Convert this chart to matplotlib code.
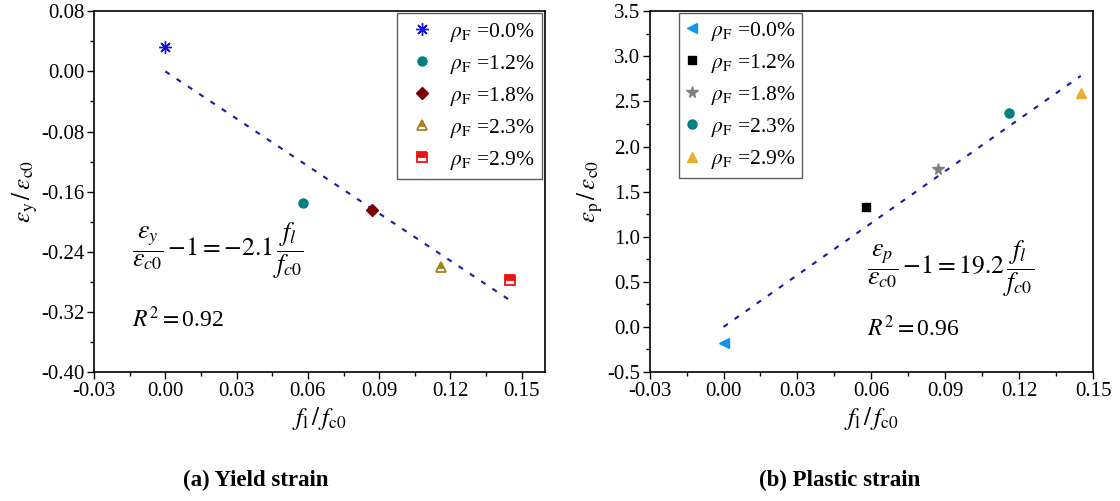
import matplotlib
matplotlib.use("Agg")
import matplotlib.pyplot as plt
import numpy as np

plt.rcParams['font.family'] = ['Liberation Serif', 'DejaVu Serif']
plt.rcParams['mathtext.fontset'] = 'stix'

# ---- data ----
labels = ["0.0%", "1.2%", "1.8%", "2.3%", "2.9%"]
fl_fc0 = [0.0, 0.058, 0.087, 0.116, 0.145]
yield_strain = [0.032, -0.175, -0.185, -0.26, -0.277]
plastic_strain = [-0.18, 1.33, 1.75, 2.37, 2.59]
fit_x = [0.0, 0.145]
slope_yield = -2.1
slope_plastic = 19.2

fig = plt.figure(figsize=(11.2, 5.01), dpi=100)
ax1 = fig.add_axes([0.084, 0.2575, 0.403, 0.72])
ax2 = fig.add_axes([0.580, 0.2575, 0.396, 0.72])

# left panel styles
left_styles = [
    dict(marker=(8, 2, 0), color='#1010F0', ms=9, mew=1.0, fillstyle='full'),
    dict(marker='o', color='#008080', ms=6.5),
    dict(marker='D', color='#7A0000', ms=6.5),
    dict(marker='^', color='#A8801C', ms=7.5, fillstyle='top', markerfacecoloralt='white', mew=1.3),
    dict(marker='s', color='#F01010', ms=6.5, fillstyle='top', markerfacecoloralt='white', mew=1.3),
]
for x, y, lab, st in zip(fl_fc0, yield_strain, labels, left_styles):
    st = dict(st)
    c = st.pop('color')
    ax1.plot([x], [y], linestyle='none', color=c, markeredgecolor=c,
             label=r'$\rho_{\rm F}$ =' + lab, **st)
fx = np.array(fit_x)
ax1.plot(fx, slope_yield * fx, linestyle=(0, (2.5, 4)), color='#1a1aa0', lw=1.5, zorder=1)

right_styles = [
    dict(marker='<', color='#1494F0', ms=7.5),
    dict(marker='s', color='#000000', ms=6),
    dict(marker='*', color='#808080', ms=8.5),
    dict(marker='o', color='#008080', ms=6.5),
    dict(marker='^', color='#E8AE2E', ms=7.5),
]
for x, y, lab, st in zip(fl_fc0, plastic_strain, labels, right_styles):
    st = dict(st)
    c = st.pop('color')
    ax2.plot([x], [y], linestyle='none', color=c, markeredgecolor=c,
             label=r'$\rho_{\rm F}$ =' + lab, **st)
ax2.plot(fx, slope_plastic * fx, linestyle=(0, (2.5, 4)), color='#1a1aa0', lw=1.5, zorder=1)

for ax in (ax1, ax2):
    ax.tick_params(which='both', direction='out', labelsize=15, width=1.0, pad=2)
    ax.tick_params(which='major', length=5)
    ax.tick_params(which='minor', length=3)
    for s in ax.spines.values():
        s.set_linewidth(1.2)

ax1.set_xlim(-0.03, 0.16)
ax1.set_ylim(-0.40, 0.08)
ax1.set_xticks(np.arange(-0.03, 0.151, 0.03))
ax1.set_xticks(np.arange(-0.015, 0.16, 0.03), minor=True)
ax1.set_xticklabels(['-0.03', '0.00', '0.03', '0.06', '0.09', '0.12', '0.15'])
ax1.set_yticks(np.arange(-0.40, 0.081, 0.08))
ax1.set_yticks(np.arange(-0.36, 0.08, 0.08), minor=True)
ax1.set_yticklabels(['-0.40', '-0.32', '-0.24', '-0.16', '-0.08', '0.00', '0.08'])

ax2.set_xlim(-0.03, 0.15)
ax2.set_ylim(-0.5, 3.5)
ax2.set_xticks(np.arange(-0.03, 0.151, 0.03))
ax2.set_xticks(np.arange(-0.015, 0.15, 0.03), minor=True)
ax2.set_xticklabels(['-0.03', '0.00', '0.03', '0.06', '0.09', '0.12', '0.15'])
ax2.set_yticks(np.arange(-0.5, 3.51, 0.5))
ax2.set_yticks(np.arange(-0.25, 3.5, 0.5), minor=True)
ax2.set_yticklabels(['-0.5', '0.0', '0.5', '1.0', '1.5', '2.0', '2.5', '3.0', '3.5'])

ax1.set_xlabel(r'$f_{\rm l}\,/\,f_{\rm c0}$', fontsize=18, labelpad=3)
ax1.set_ylabel(r'$\varepsilon_{\rm y}\,/\,\varepsilon_{\rm c0}$', fontsize=18, labelpad=1)
ax2.set_xlabel(r'$f_{\rm l}\,/\,f_{\rm c0}$', fontsize=18, labelpad=3)
ax2.set_ylabel(r'$\varepsilon_{\rm p}\,/\,\varepsilon_{\rm c0}$', fontsize=18, labelpad=1)

leg_kw = dict(fontsize=15.5, frameon=True, fancybox=False, edgecolor='#333333',
              labelspacing=0.42, borderaxespad=0.0)
l1 = ax1.legend(loc='upper right', bbox_to_anchor=(0.993, 0.995),
                handletextpad=0.5, borderpad=0.35, handlelength=1.6, **leg_kw)
l1.get_frame().set_linewidth(1.0)
l2 = ax2.legend(loc='upper left', bbox_to_anchor=(0.066, 0.994),
                handletextpad=0.6, borderpad=0.3, handlelength=0.6, **leg_kw)
l2.get_frame().set_linewidth(1.0)

ax1.text(0.083, 0.335, r'$\dfrac{\varepsilon_y}{\varepsilon_{c0}}\,\mathrm{-}1=-2.1\,\dfrac{f_l}{f_{c0}}$',
         transform=ax1.transAxes, fontsize=18.5, va='center', ha='left')
ax1.text(0.083, 0.145, r'$R^2=$0.92', transform=ax1.transAxes, fontsize=17, va='center', ha='left')
ax2.text(0.49, 0.285, r'$\dfrac{\varepsilon_p}{\varepsilon_{c0}}\,\mathrm{-}1=19.2\,\dfrac{f_l}{f_{c0}}$',
         transform=ax2.transAxes, fontsize=18.5, va='center', ha='left')
ax2.text(0.49, 0.12, r'$R^2=$0.96', transform=ax2.transAxes, fontsize=17, va='center', ha='left')

fig.text(0.228, 0.042, '(a) Yield strain', fontsize=16.5, fontweight='bold', ha='center', va='center')
fig.text(0.750, 0.042, '(b) Plastic strain', fontsize=16.5, fontweight='bold', ha='center', va='center')

fig.savefig('out.png', dpi=100)
